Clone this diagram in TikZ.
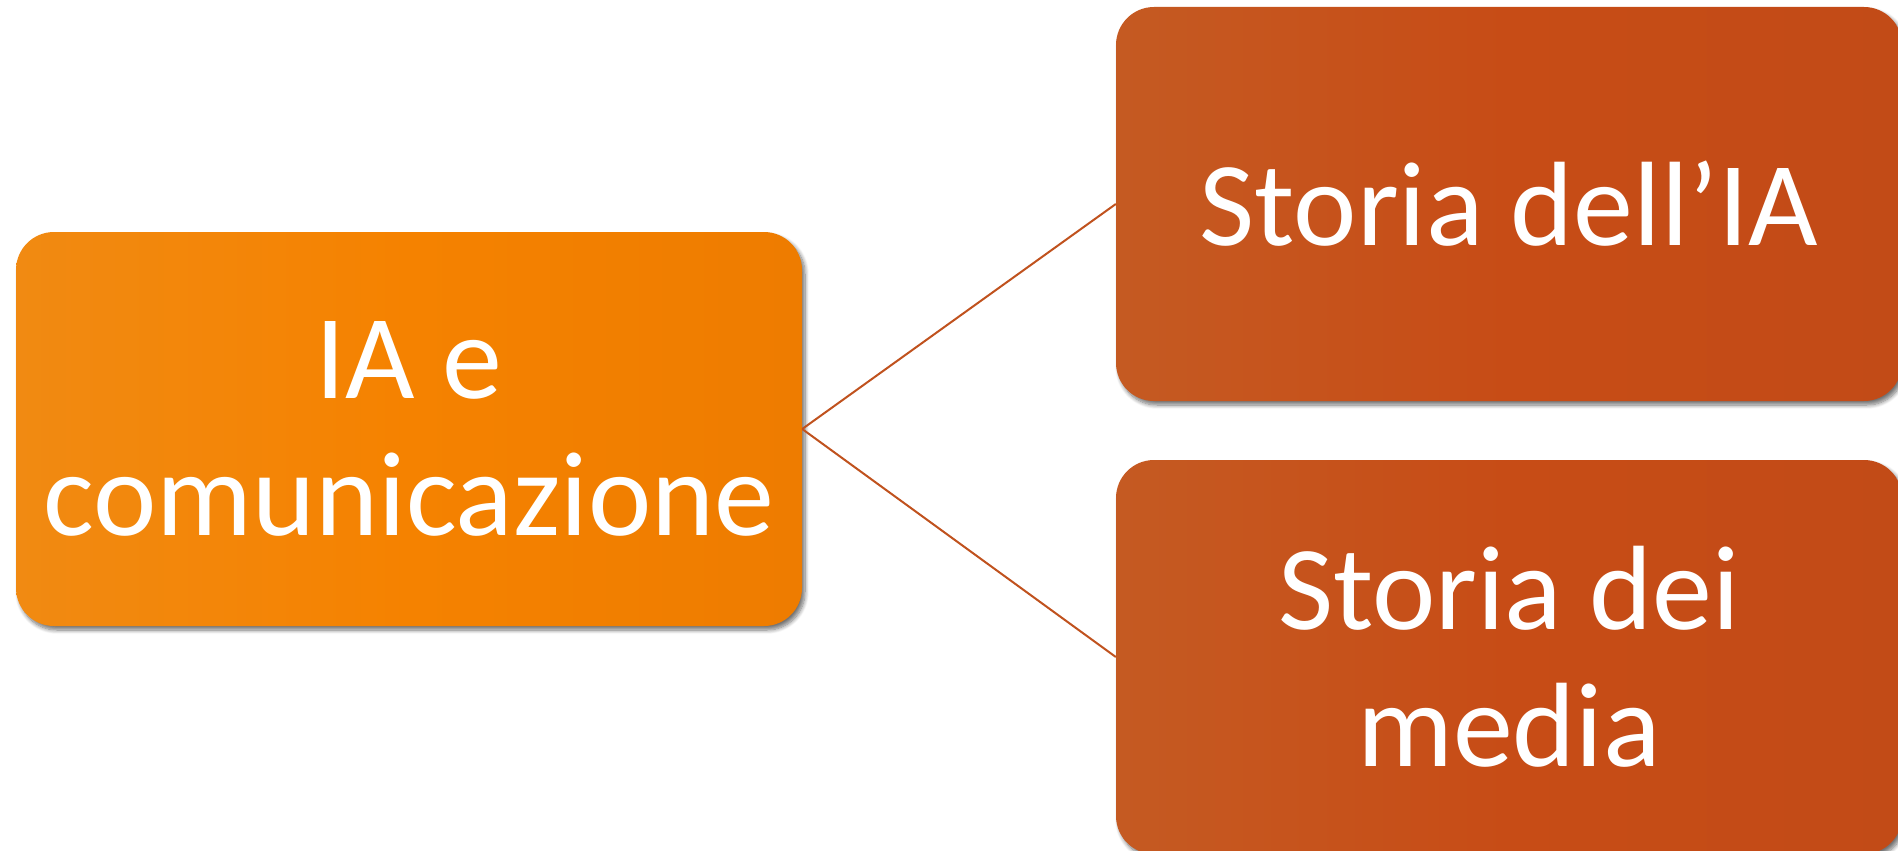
\documentclass[tikz,border=0pt]{standalone}
\usepackage{fontspec}
\setmainfont{Carlito}
\usetikzlibrary{shadows.blur}
\definecolor{orL}{HTML}{F18A12}
\definecolor{orM}{HTML}{F58200}
\definecolor{orR}{HTML}{EE7C00}
\definecolor{ruL}{HTML}{C55A22}
\definecolor{ruM}{HTML}{C74C16}
\definecolor{ruR}{HTML}{C24B17}
\definecolor{linkc}{HTML}{C0521E}
\begin{document}
\begin{tikzpicture}[x=1pt,y=1pt,
  box/.style={rectangle, rounded corners=38pt, minimum width=786pt, minimum height=394pt,
    inner sep=0pt, text=white, align=center, font=\fontsize{120}{137}\selectfont,
    blur shadow={shadow xshift=3pt, shadow yshift=-4pt, shadow blur steps=8,
      shadow blur radius=4pt, shadow opacity=55}},
  orangebox/.style={box, left color=orL, right color=orR, middle color=orM},
  rustbox/.style={box, left color=ruL, right color=ruR, middle color=ruM},
  link/.style={draw=linkc, line width=2pt}]
\useasboundingbox (0,0) rectangle (1898,-851);
\node[orangebox] (main) at (409,-429) {IA e\\comunicazione};
\node[rustbox] (ia) at (1509,-204) {Storia dell’IA};
\node[rustbox] (media) at (1509,-657) {Storia dei\\media};
\draw[link] (main.east) -- (ia.west);
\draw[link] (main.east) -- (media.west);
\end{tikzpicture}
\end{document}
